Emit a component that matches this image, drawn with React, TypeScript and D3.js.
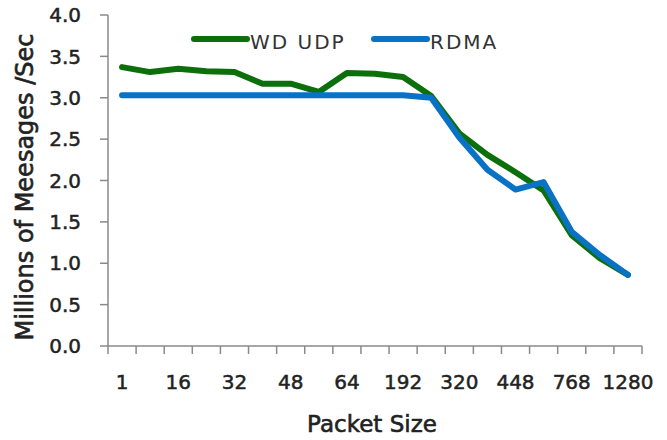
import React from 'react';
import * as d3 from 'd3';

const packetSizes = ['1', '8', '16', '24', '32', '40', '48', '56', '64', '128', '192', '256', '320', '384', '448', '512', '768', '1024', '1280'];
const wdUdp = [3.37, 3.31, 3.35, 3.32, 3.31, 3.17, 3.17, 3.07, 3.30, 3.29, 3.25, 3.02, 2.57, 2.31, 2.10, 1.88, 1.34, 1.06, 0.86];
const rdma = [3.03, 3.03, 3.03, 3.03, 3.03, 3.03, 3.03, 3.03, 3.03, 3.03, 3.03, 3.00, 2.52, 2.13, 1.89, 1.98, 1.38, 1.10, 0.86];
const yTicks = [0, 0.5, 1, 1.5, 2, 2.5, 3, 3.5, 4];
const xLabels = ['1', '16', '32', '48', '64', '192', '320', '448', '768', '1280'];

const GREEN = '#0b6f0b';
const BLUE = '#0a72c4';
const AXIS = '#8a8a8a';
const FONT = '"DejaVu Sans", Verdana, sans-serif';

export default function App() {
  const width = 667;
  const height = 440;
  const left = 108, right = 642, top = 15, bottom = 346;

  const x = d3.scaleBand().domain(packetSizes).range([left, right]).padding(0);
  const y = d3.scaleLinear().domain([0, 4]).range([bottom, top]);
  const cx = (c: string) => (x(c) as number) + x.bandwidth() / 2;

  const line = d3.line<number>()
    .x((_, i) => cx(packetSizes[i]))
    .y(d => y(d));

  // tick marks on band boundaries
  const boundaries = packetSizes.map(c => x(c) as number).concat([right]);

  return (
    <svg width={width} height={height} style={{ position: 'absolute', left: 0, top: 0, background: '#fff' }}>
      {/* y axis */}
      <line x1={left} x2={left} y1={top} y2={bottom} stroke={AXIS} strokeWidth={1.5} />
      {yTicks.map(t => (
        <g key={t}>
          <line x1={left - 8} x2={left} y1={y(t)} y2={y(t)} stroke={AXIS} strokeWidth={1.5} />
          <text x={81} y={y(t)} dy="0.36em" textAnchor="end" fontFamily={FONT} fontSize={20}
            fill="#222" stroke="#222" strokeWidth={0.5}>
            {d3.format('.1f')(t)}
          </text>
        </g>
      ))}

      {/* x axis */}
      <line x1={left} x2={right} y1={bottom} y2={bottom} stroke={AXIS} strokeWidth={1.5} />
      {boundaries.map((b, i) => (
        <line key={i} x1={b} x2={b} y1={bottom} y2={bottom + 8} stroke={AXIS} strokeWidth={1.5} />
      ))}
      {xLabels.map(l => (
        <text key={l} x={cx(l)} y={382} dy="0.36em" textAnchor="middle" fontFamily={FONT} fontSize={20}
          fill="#222" stroke="#222" strokeWidth={0.5}>
          {l}
        </text>
      ))}

      {/* series */}
      <path d={line(wdUdp) || ''} fill="none" stroke={GREEN} strokeWidth={6} strokeLinejoin="round" strokeLinecap="round" />
      <path d={line(rdma) || ''} fill="none" stroke={BLUE} strokeWidth={6} strokeLinejoin="round" strokeLinecap="round" />

      {/* legend */}
      <line x1={194} x2={247} y1={39} y2={39} stroke={GREEN} strokeWidth={6} strokeLinecap="round" />
      <text x={250} y={49} fontFamily={FONT} fontSize={20} letterSpacing={2} fill="#333">WD UDP</text>
      <line x1={374} x2={427} y1={39} y2={39} stroke={BLUE} strokeWidth={6} strokeLinecap="round" />
      <text x={430} y={49} fontFamily={FONT} fontSize={20} letterSpacing={2} fill="#333">RDMA</text>

      {/* axis titles */}
      <text x={372} y={432} textAnchor="middle" fontFamily={FONT} fontSize={23} fill="#222"
        stroke="#222" strokeWidth={0.6}>
        Packet Size
      </text>
      <text transform={`translate(33,${(bottom + 28) / 2}) rotate(-90)`} textAnchor="middle"
        fontFamily={FONT} fontSize={24} fill="#222" stroke="#222" strokeWidth={0.6}>
        Millions of Meesages /Sec
      </text>
    </svg>
  );
}
